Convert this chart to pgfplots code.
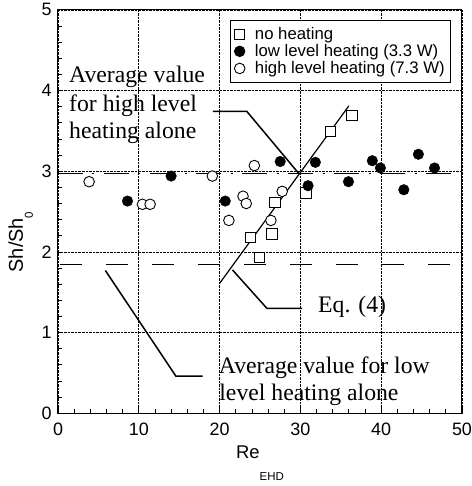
\documentclass[border=0pt]{standalone}
\usepackage{fontspec}
\setmainfont{Liberation Serif}
\setsansfont{Liberation Sans}
\usepackage{pgfplots}
\pgfplotsset{compat=1.18}
\begin{document}
\begin{tikzpicture}
\path[use as bounding box] (-58bp,-72.7bp) rectangle (414bp,413.3bp);
\begin{axis}[
  at={(0,0)}, anchor=south west,
  scale only axis, width=404bp, height=403.5bp,
  xmin=0, xmax=50, ymin=0, ymax=5,
  xtick={0,10,...,50}, ytick={0,1,...,5},
  minor x tick num=4, minor y tick num=4,
  tick pos=left, tick align=inside,
  major tick length=5bp, minor tick length=4bp,
  grid=major,
  major grid style={black, densely dotted, line width=0.6bp},
  axis line style={line width=1bp},
  every tick/.style={black, line width=0.8bp},
  ticklabel style={font=\sffamily\fontsize{18}{20}\selectfont},
  xticklabel style={yshift=-6bp},
  yticklabel style={xshift=-3bp},
  /pgf/number format/assume math mode=true,
  xlabel={\sffamily\fontsize{18.5}{20}\selectfont Re\raisebox{-22bp}{\fontsize{11.5}{12}\selectfont EHD}},
  xlabel style={at={(axis description cs:0.5,0)}, anchor=base, yshift=-45bp},
  legend style={at={(axis description cs:0.4257,0.9747)}, anchor=north west,
    draw=black, line width=0.8bp, fill=white,
    font=\sffamily\fontsize{16.8}{17.5}\selectfont,
    inner xsep=4bp, inner ysep=5bp, row sep=-0.5bp,
    /tikz/every odd column/.append style={column sep=8bp}},
  legend cell align=left,
  clip=false,
]
% reference lines
\addplot[black, line width=1bp, dash pattern=on 25bp off 9.5bp on 2bp off 9.5bp, forget plot]
  coordinates {(0,2.974) (50,2.974)};
\addplot[black, line width=1bp, dash pattern=on 22bp off 24bp, forget plot]
  coordinates {(0.25,1.838) (50,1.838)};
% Eq. (4)
\addplot[black, line width=1.2bp, forget plot] coordinates {(20,1.61) (36,3.81)};
% annotation pointers
\addplot[black, line width=1.5bp, forget plot] coordinates {(19.17,3.74) (23.38,3.74) (29.78,2.974)};
\addplot[black, line width=1.5bp, forget plot] coordinates {(5.86,1.77) (14.58,0.462) (17.9,0.462)};
\addplot[black, line width=1.5bp, forget plot] coordinates {(21.6,1.776) (25.86,1.30) (30.2,1.30)};
% data
\addplot[only marks, mark=square*, mark size=5.2bp, mark options={draw=black, fill=white, line width=0.9bp}]
  coordinates {(23.8,2.18) (24.95,1.93) (26.5,2.22) (26.85,2.61) (30.7,2.73) (33.7,3.49) (36.4,3.69)};
\addlegendentry{no heating}
\addplot[only marks, mark=*, mark size=5.3bp, mark options={draw=black, fill=black}]
  coordinates {(8.6,2.63) (14.0,2.94) (20.7,2.63) (27.5,3.12) (30.95,2.82) (31.85,3.11)
               (35.95,2.87) (38.9,3.13) (39.9,3.04) (42.8,2.77) (44.6,3.21) (46.6,3.04)};
\addlegendentry{low level heating (3.3 W)}
\addplot[only marks, mark=*, mark size=5.3bp, mark options={draw=black, fill=white, line width=0.9bp}]
  coordinates {(3.85,2.87) (10.45,2.59) (11.4,2.59) (19.1,2.94) (21.15,2.39) (22.9,2.69)
               (23.3,2.60) (24.3,3.07) (26.35,2.39) (27.75,2.75)};
\addlegendentry{high level heating (7.3 W)}
% y label
\node[xshift=-35bp, rotate=90, anchor=base, inner sep=0pt, font=\sffamily\fontsize{20}{22}\selectfont]
  at (axis description cs:0,0.4245) {Sh/Sh\raisebox{-10bp}{\fontsize{11.5}{12}\selectfont 0}};
% annotation texts
\node[anchor=base west, inner sep=0pt, font=\fontsize{23.8}{27}\selectfont] at (axis cs:1.36,4.093) {Average value};
\node[anchor=base west, inner sep=0pt, font=\fontsize{23.8}{27}\selectfont] at (axis cs:1.36,3.745) {for high level};
\node[anchor=base west, inner sep=0pt, font=\fontsize{23.8}{27}\selectfont] at (axis cs:1.36,3.405) {heating alone};
\node[anchor=base west, inner sep=0pt, font=\fontsize{23.8}{27}\selectfont] at (axis cs:32.18,1.247) {Eq. (4)};
\node[anchor=base west, inner sep=0pt, font=\fontsize{23.8}{27}\selectfont] at (axis cs:19.89,0.499) {Average value for low};
\node[anchor=base west, inner sep=0pt, font=\fontsize{23.8}{27}\selectfont] at (axis cs:19.95,0.156) {level heating alone};
\end{axis}
\end{tikzpicture}
\end{document}
